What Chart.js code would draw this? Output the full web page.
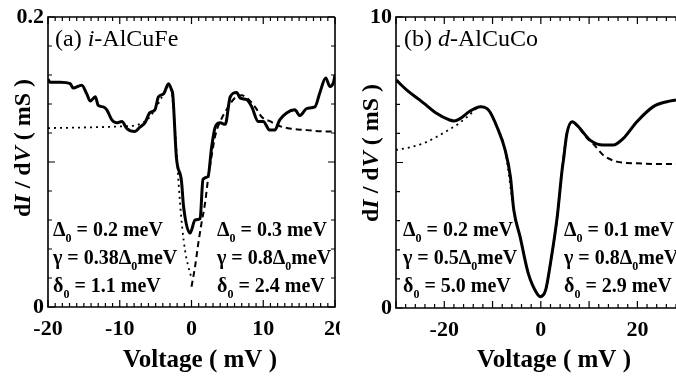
<!DOCTYPE html>
<html>
<head>
<meta charset="utf-8">
<script src="https://cdn.jsdelivr.net/npm/chart.js@4.4.0/dist/chart.umd.min.js"></script>
<style>
body { margin: 0; background: #fff; width: 676px; height: 379px; overflow: hidden; position: relative; }
.panel { position: absolute; top: 0; width: 340px; height: 379px; }
</style>
</head>
<body>
<div class="panel" style="left:0"><canvas id="chart-a" width="340" height="379"></canvas></div>
<div class="panel" style="left:336px"><canvas id="chart-b" width="340" height="379"></canvas></div>
<script>
// panel (a) i-AlCuFe, voltage in mV, dI/dV in mS
const aSolidV = [-20, -19.7, -18.3, -16.9, -16.5, -15.3, -14.6, -14.1, -13.4, -13.0, -12.3, -11.8, -11.1, -10.4, -9.7, -9.0, -7.9, -7.2, -6.5, -5.8, -5.1, -4.6, -3.9, -3.2, -2.8, -2.6, -2.1, -1.4, -1.1, -0.2, 0.5, 1.2, 1.6, 2.3, 2.8, 3.3, 4.0, 4.7, 5.4, 6.3, 6.8, 7.7, 8.4, 9.3, 10.0, 10.9, 11.6, 12.3, 13.3, 14.4, 15.1, 16.1, 17.2, 17.9, 18.7, 19.3, 19.8, 20];
const aSolidG = [0.157, 0.155, 0.155, 0.154, 0.151, 0.153, 0.147, 0.142, 0.145, 0.139, 0.138, 0.136, 0.129, 0.127, 0.128, 0.123, 0.121, 0.124, 0.127, 0.134, 0.136, 0.145, 0.147, 0.154, 0.150, 0.146, 0.103, 0.087, 0.069, 0.051, 0.060, 0.061, 0.088, 0.090, 0.110, 0.124, 0.127, 0.126, 0.145, 0.148, 0.144, 0.143, 0.138, 0.128, 0.128, 0.122, 0.122, 0.129, 0.134, 0.136, 0.132, 0.137, 0.138, 0.148, 0.158, 0.152, 0.155, 0.160];
const aDotV = [-20, -15, -10, -7.6, -6, -5, -4, -3.2, -2.8, -2.4, -2.0, -1.6, -1.3, -0.9, -0.45, 0];
const aDotG = [0.1234, 0.1238, 0.1245, 0.1255, 0.130, 0.137, 0.146, 0.152, 0.149, 0.130, 0.100, 0.072, 0.055, 0.039, 0.028, 0.020];
const aDashV = [0, 0.5, 0.95, 1.4, 1.9, 2.3, 2.8, 3.3, 4.2, 5.0, 6.0, 7.0, 8.0, 9.0, 9.8, 11.0, 11.9, 13.3, 16.0, 18.0, 20];
const aDashG = [0.014, 0.028, 0.044, 0.058, 0.072, 0.088, 0.104, 0.118, 0.130, 0.137, 0.144, 0.146, 0.143, 0.137, 0.131, 0.128, 0.1255, 0.1234, 0.122, 0.1212, 0.1209];

// panel (b) d-AlCuCo
const bSolidV = [-30, -27.5, -25.1, -24.2, -21.7, -18.9, -18.0, -16.8, -14.8, -12.5, -11.2, -10.6, -9.1, -7.4, -6.3, -5.6, -4.3, -2.6, -0.8, 0, 1.0, 2.0, 3.4, 4.4, 4.7, 5.4, 6.5, 7.8, 10.2, 12.9, 15.0, 17.1, 19.9, 23.3, 26.1, 28];
const bSolidG = [7.84, 7.45, 7.15, 7.03, 6.70, 6.46, 6.43, 6.50, 6.75, 6.92, 6.86, 6.75, 6.23, 5.43, 4.51, 3.37, 2.45, 1.19, 0.50, 0.39, 0.62, 1.54, 3.14, 4.74, 5.10, 6.00, 6.40, 6.23, 5.77, 5.60, 5.60, 5.83, 6.40, 6.92, 7.09, 7.15];
const bDotV = [-30, -27.1, -24.3, -21.5, -19.1, -17.4, -15.0, -12.5, -10.6, -9.1, -7.4, -5.6, -4.3, -2.6, -0.8, 0];
const bDotG = [5.43, 5.52, 5.66, 5.89, 6.12, 6.29, 6.60, 6.92, 6.75, 6.23, 5.43, 3.37, 2.45, 1.19, 0.50, 0.39];
const bDashV = [0, 1.0, 2.0, 3.4, 4.4, 5.4, 6.5, 7.8, 9.5, 10.8, 12.9, 15.7, 19.9, 24, 28];
const bDashG = [0.39, 0.62, 1.54, 3.14, 4.74, 6.00, 6.40, 6.20, 5.85, 5.65, 5.26, 5.03, 4.97, 4.95, 4.95];

const aXTicks = [-20, -10, 0, 10, 20];
const aYTicks = [0, 0.2];
const bXTicks = [-20, 0, 20];
const bYTicks = [0, 10];

// fit parameters: [symbol, value text] rows, subscript 0 marked with '_'
const aParamsLeft = [['Δ_', ' = 0.2 meV'], ['γ = 0.38Δ_', 'meV'], ['δ_', ' = 1.1 meV']];
const aParamsRight = [['Δ_', ' = 0.3 meV'], ['γ = 0.8Δ_', 'meV'], ['δ_', ' = 2.4 meV']];
const bParamsLeft = [['Δ_', ' = 0.2 meV'], ['γ = 0.5Δ_', 'meV'], ['δ_', ' = 5.0 meV']];
const bParamsRight = [['Δ_', ' = 0.1 meV'], ['γ = 0.8Δ_', 'meV'], ['δ_', ' = 2.9 meV']];

const FAM = '"Liberation Serif", "Times New Roman", serif';

function pts(xs, ys) {
    return xs.map((x, i) => ({ x: x, y: ys[i] }));
}

function rich(ctx, parts, x, y, size, align, weight) {
    const fnt = s => (s === 'i' ? 'italic ' : '') + weight + ' ' + (s === 's' ? Math.round(size * 0.62) : size) + 'px ' + FAM;
    let w = 0;
    parts.forEach(p => { ctx.font = fnt(p[1]); w += ctx.measureText(p[0]).width; });
    let cx = align === 'center' ? x - w / 2 : (align === 'right' ? x - w : x);
    ctx.textAlign = 'left';
    ctx.textBaseline = 'middle';
    parts.forEach(p => {
        ctx.font = fnt(p[1]);
        ctx.fillText(p[0], cx, p[1] === 's' ? y + size * 0.38 : y);
        cx += ctx.measureText(p[0]).width;
    });
}

function paramParts(row) {
    const head = row[0].replace('_', '');
    return [[head, 'n'], ['0', 's'], [row[1], 'n']];
}

function framePlugin(cfg) {
    return {
        id: 'frame',
        afterDraw(chart) {
            const ctx = chart.ctx, a = chart.chartArea;
            const xs = chart.scales.x, ys = chart.scales.y;
            ctx.save();
            ctx.strokeStyle = '#000';
            ctx.fillStyle = '#000';
            ctx.lineWidth = 1.6;
            ctx.beginPath();
            ctx.moveTo(a.right + (cfg.rightBorder ? 0 : 2), a.top);
            ctx.lineTo(a.left, a.top);
            ctx.lineTo(a.left, a.bottom);
            ctx.lineTo(a.right + (cfg.rightBorder ? 0 : 2), a.bottom);
            if (cfg.rightBorder) { ctx.lineTo(a.right, a.top); }
            ctx.stroke();

            // inward ticks
            ctx.lineWidth = 1.2;
            ctx.beginPath();
            for (let k = Math.ceil(xs.min / cfg.xMinor); k * cfg.xMinor <= xs.max + 1e-9; k++) {
                const v = k * cfg.xMinor;
                const px = xs.getPixelForValue(v);
                const len = Math.abs(v / cfg.xMajor - Math.round(v / cfg.xMajor)) < 1e-6 ? 7 : 4;
                ctx.moveTo(px, a.bottom); ctx.lineTo(px, a.bottom - len);
                ctx.moveTo(px, a.top); ctx.lineTo(px, a.top + len);
            }
            for (let k = 0; k * cfg.yMinor <= ys.max + 1e-9; k++) {
                const v = k * cfg.yMinor;
                const py = ys.getPixelForValue(v);
                const len = Math.abs(v / cfg.yMajor - Math.round(v / cfg.yMajor)) < 1e-6 ? 7 : 4;
                ctx.moveTo(a.left, py); ctx.lineTo(a.left + len, py);
                if (cfg.rightBorder) { ctx.moveTo(a.right, py); ctx.lineTo(a.right - len, py); }
            }
            ctx.stroke();

            // tick labels
            ctx.font = 'bold 22px ' + FAM;
            ctx.textAlign = 'center';
            ctx.textBaseline = 'middle';
            cfg.xLabels.forEach(v => ctx.fillText(String(v), xs.getPixelForValue(v), a.bottom + 22));
            ctx.textAlign = 'right';
            cfg.yLabels.forEach(v => ctx.fillText(String(v), a.left - 4, ys.getPixelForValue(v)));

            // axis titles
            rich(ctx, [['Voltage ( mV )', 'n']], cfg.xTitleX, 361, 25, 'center', 'bold');
            ctx.save();
            ctx.translate(cfg.yTitleX, cfg.yTitleY);
            ctx.rotate(-Math.PI / 2);
            rich(ctx, [['d', 'n'], ['I', 'i'], [' / d', 'n'], ['V', 'i'], [' ( mS )', 'n']], 0, 0, 24, 'center', 'bold');
            ctx.restore();

            // panel tag
            rich(ctx, cfg.tag, cfg.tagX, 40, 24, 'left', 'normal');

            // parameters
            const rowsY = [231, 259, 287];
            cfg.paramsLeft.forEach((r, i) => rich(ctx, paramParts(r), cfg.leftX, rowsY[i], 20, 'left', 'bold'));
            cfg.paramsRight.forEach((r, i) => rich(ctx, paramParts(r), cfg.rightX, rowsY[i], 20, 'left', 'bold'));
            ctx.restore();
        }
    };
}

function makeChart(id, sets, xr, yr, pad, cfg, tension) {
    return new Chart(document.getElementById(id).getContext('2d'), {
        type: 'line',
        data: {
            datasets: [
                { data: pts(sets[0], sets[1]), borderColor: '#000', borderWidth: 3, tension: tension },
                { data: pts(sets[2], sets[3]), borderColor: '#000', borderWidth: 1.8, borderDash: [2, 4], tension: 0.3 },
                { data: pts(sets[4], sets[5]), borderColor: '#000', borderWidth: 2, borderDash: [6, 4], tension: 0.3 }
            ]
        },
        options: {
            responsive: false,
            animation: false,
            devicePixelRatio: 1,
            layout: { padding: pad },
            elements: { point: { radius: 0 }, line: { cubicInterpolationMode: 'monotone', borderCapStyle: 'butt' } },
            plugins: { legend: { display: false }, tooltip: { enabled: false } },
            scales: {
                x: { type: 'linear', min: xr[0], max: xr[1], display: false },
                y: { type: 'linear', min: yr[0], max: yr[1], display: false }
            }
        },
        plugins: [framePlugin(cfg)]
    });
}

makeChart('chart-a', [aSolidV, aSolidG, aDotV, aDotG, aDashV, aDashG], [-20, 20], [0, 0.2],
    { left: 48, right: 5, top: 17, bottom: 72 },
    {
        rightBorder: true, xMinor: 1, xMajor: 10, yMinor: 0.02, yMajor: 0.1,
        xLabels: aXTicks, yLabels: aYTicks, xTitleX: 200, yTitleX: 24, yTitleY: 148,
        tag: [['(a) ', 'n'], ['i', 'i'], ['-AlCuFe', 'n']], tagX: 55,
        paramsLeft: aParamsLeft, paramsRight: aParamsRight, leftX: 53, rightX: 217
    }, 0);

makeChart('chart-b', [bSolidV, bSolidG, bDotV, bDotG, bDashV, bDashG], [-30, 28], [0, 10],
    { left: 60, right: 0, top: 17, bottom: 71 },
    {
        rightBorder: false, xMinor: 2, xMajor: 10, yMinor: 1, yMajor: 5,
        xLabels: bXTicks, yLabels: bYTicks, xTitleX: 218, yTitleX: 36, yTitleY: 153,
        tag: [['(b) ', 'n'], ['d', 'i'], ['-AlCuCo', 'n']], tagX: 68,
        paramsLeft: bParamsLeft, paramsRight: bParamsRight, leftX: 67, rightX: 228
    }, 0.4);
</script>
</body>
</html>
